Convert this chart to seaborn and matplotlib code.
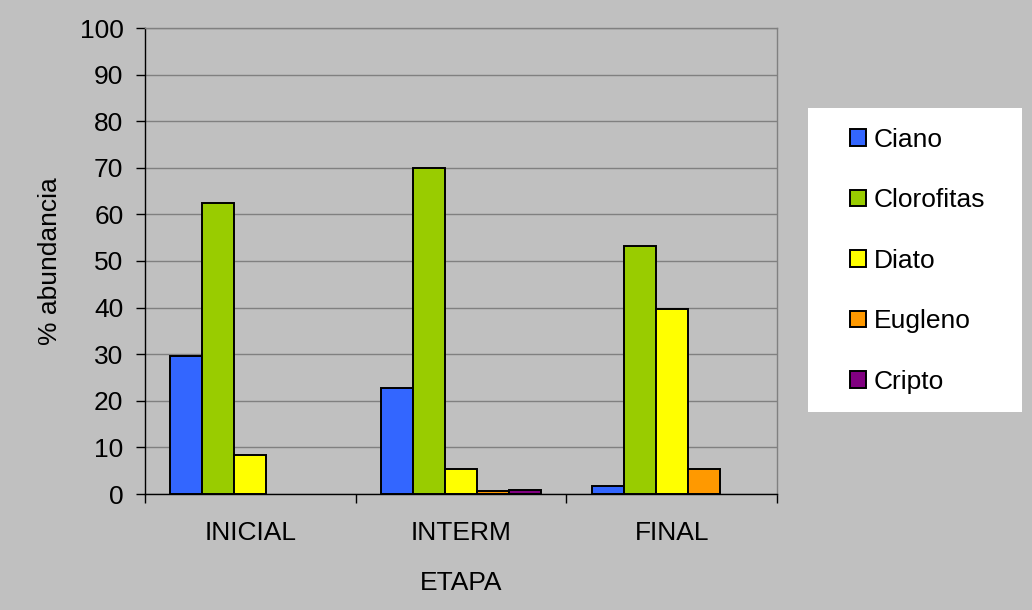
import matplotlib
matplotlib.use("Agg")
import matplotlib.pyplot as plt
import seaborn as sns
import pandas as pd
from matplotlib.patches import Patch, Rectangle

etapas = ["INICIAL", "INTERM", "FINAL"]
grupos = ["Ciano", "Clorofitas", "Diato", "Eugleno", "Cripto"]
ciano = [29.6, 22.8, 1.8]
clorofitas = [62.4, 70.0, 53.2]
diato = [8.4, 5.4, 39.7]
eugleno = [0.0, 0.6, 5.4]
cripto = [0.0, 0.9, 0.0]
colores = ["#3366FF", "#99CC00", "#FFFF00", "#FF9900", "#800080"]

series = [ciano, clorofitas, diato, eugleno, cripto]
rows = []
for g, vals in zip(grupos, series):
    for e, v in zip(etapas, vals):
        rows.append({"ETAPA": e, "grupo": g, "valor": v})
df = pd.DataFrame(rows)

sns.set_style("white")
plt.rcParams["font.family"] = ["Liberation Sans", "DejaVu Sans"]
plt.rcParams["text.color"] = "black"
plt.rcParams["axes.labelcolor"] = "black"

FS = 19
W, H = 1032, 610
fig = plt.figure(figsize=(W/100, H/100), dpi=100, facecolor="#C0C0C0")
ax = fig.add_axes([145/W, 1-494/H, (777-145)/W, (494-28)/H])
ax.set_facecolor("#C0C0C0")

sns.barplot(data=df, x="ETAPA", y="valor", hue="grupo", order=etapas,
            hue_order=grupos, palette=colores, width=0.76, dodge=True,
            edgecolor="black", linewidth=1.4, saturation=1, ax=ax,
            errorbar=None, legend=False)
for p in ax.patches:
    if p.get_height() == 0:
        p.set_visible(False)

ax.set_ylim(0, 100)
ax.set_xlim(-0.5, 2.5)
ax.set_yticks(range(0, 101, 10))
ax.yaxis.grid(True, color="#808080", linewidth=1)
ax.set_axisbelow(True)
ax.set_xticks([0, 1, 2])
ax.set_xticklabels(etapas)
ax.tick_params(axis="x", length=0, labelsize=FS, pad=19.5, colors="black")
ax.tick_params(axis="y", length=6.5, width=1, labelsize=FS, pad=9, colors="black", left=True)
ax.set_xticks([-0.5, 0.5, 1.5, 2.5], minor=True)
ax.tick_params(axis="x", which="minor", length=6.5, width=1, color="black", bottom=True)
ax.set_xlabel("ETAPA", fontsize=FS, labelpad=19, color="black")
ax.set_ylabel("% abundancia", fontsize=FS, labelpad=13, color="black")

for s in ["left", "bottom"]:
    ax.spines[s].set_color("black")
    ax.spines[s].set_linewidth(1)
for s in ["right", "top"]:
    ax.spines[s].set_color("#808080")
    ax.spines[s].set_linewidth(1)

# legend box
fig.patches.append(Rectangle((808/W, 1-412/H), (1022-808)/W, (412-108)/H,
                             transform=fig.transFigure, facecolor="white",
                             edgecolor="none", zorder=0))
handles = [Patch(facecolor=c, edgecolor="black", linewidth=1.4, label=g)
           for g, c in zip(grupos, colores)]
leg = fig.legend(handles=handles, loc="upper left",
                 bbox_to_anchor=(850/W, 1-128/H), fontsize=FS,
                 frameon=False, handlelength=0.6, handleheight=0.6,
                 handletextpad=0.3, labelspacing=1.38, borderpad=0,
                 borderaxespad=0)

fig.savefig("out.png", dpi=100, facecolor="#C0C0C0")
